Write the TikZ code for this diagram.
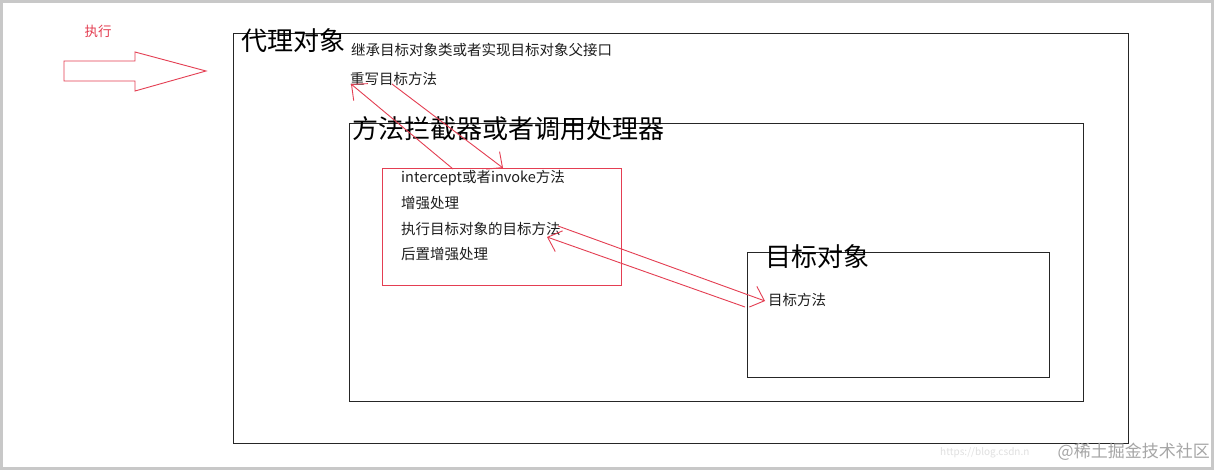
\documentclass[tikz,border=0pt]{standalone}
\usepackage{fontspec}
\newfontfamily\cjk{Noto Sans CJK SC}
\usetikzlibrary{arrows.meta}
\definecolor{redl}{RGB}{228,62,82}
\definecolor{txt}{RGB}{30,30,30}
\definecolor{frame}{RGB}{200,200,200}
\begin{document}
\begin{tikzpicture}[x=1pt,y=-1pt,
  box/.style={draw=black!85, line width=1pt, inner sep=0pt, outer sep=0pt},
  redbox/.style={draw=redl, line width=1pt, inner sep=0pt, outer sep=0pt},
  title/.style={font=\cjk\fontsize{26}{26}\selectfont, anchor=west, inner sep=0pt, text=black},
  lbl/.style={font=\cjk\fontsize{14.5}{14.5}\selectfont, anchor=west, inner sep=0pt, text=txt},
  flow/.style={draw=redl, line width=0.9pt, -{Straight Barb[length=12pt,width=22pt]}},
]
\useasboundingbox (0,0) rectangle (1214,470);
\fill[white] (0,0) rectangle (1214,470);
\draw[line width=3pt, draw=frame] (1.5,1.5) rectangle (1212.5,468.5);

% boxes
\node[box, minimum width=895pt, minimum height=409pt, anchor=north west] (proxy) at (233,34) {};
\node[box, minimum width=734pt, minimum height=277pt, anchor=north west] (inter) at (349,124) {};
\node[redbox, minimum width=239pt, minimum height=116pt, anchor=north west] (red) at (382,169) {};
\node[box, minimum width=302pt, minimum height=125pt, anchor=north west] (target) at (747,252) {};

% texts
\node[title] (proxyT) at (241,41) {代理对象};
\node[lbl] (inherit) at (351,50) {继承目标对象类或者实现目标对象父接口};
\node[lbl] (rewrite) at (350,79) {重写目标方法};
\node[title] (interT) at (352,129) {方法拦截器或者调用处理器};
\node[lbl] (l1) at (401,178) {intercept或者invoke方法};
\node[lbl] (l2) at (401,203) {增强处理};
\node[lbl] (l3) at (401,229) {执行目标对象的目标方法};
\node[lbl] (l4) at (401,254) {后置增强处理};
\node[title] (targetT) at (765,257) {目标对象};
\node[lbl] (tm) at (768,300) {目标方法};
\node[font=\cjk\fontsize{13.5}{13.5}\selectfont, text=redl, inner sep=0pt] (exec) at (98,31) {执行};

% big hollow arrow
\draw[draw=redl, line width=0.9pt, line join=miter] (64,61) -- (135,61) -- (135,52) -- (206,71) -- (135,91) -- (135,81) -- (64,81) -- cycle;

% connectors
\coordinate (a1s) at (453,169); \coordinate (a1e) at (351,84);
\coordinate (a2s) at (392,84);  \coordinate (a2e) at (503,168);
\coordinate (a3s) at (558,226); \coordinate (a3e) at (765,301);
\coordinate (a4s) at (745,307); \coordinate (a4e) at (547,237);
\draw[flow] (a1s) -- (a1e);
\draw[flow] (a2s) -- (a2e);
\draw[flow] (a3s) -- (a3e);
\draw[flow] (a4s) -- (a4e);

% watermarks
\node[font=\cjk\fontsize{10}{10}\selectfont, text=black!12, anchor=west, inner sep=0pt] (wm1) at (940,453) {https://blog.csdn.n};
\node[font=\cjk\fontsize{17}{17}\selectfont, text=black!35, anchor=east, inner sep=0pt] (wm2) at (1210,452) {@稀土掘金技术社区};
\end{tikzpicture}
\end{document}
